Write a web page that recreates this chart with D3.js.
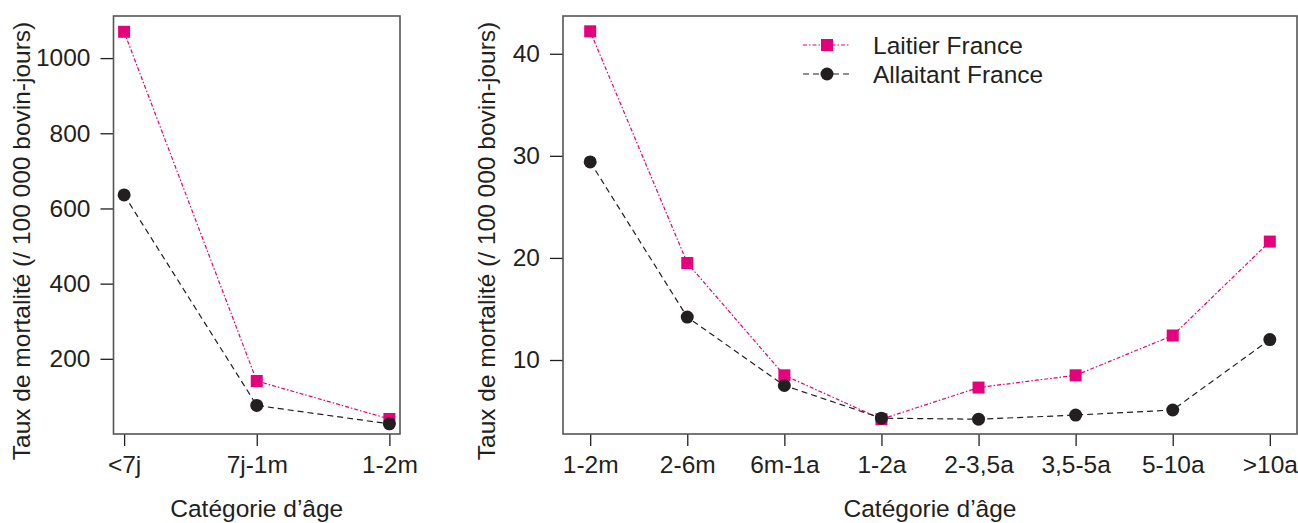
<!DOCTYPE html>
<html>
<head>
<meta charset="utf-8">
<script src="https://cdn.jsdelivr.net/npm/d3@7"></script>
<style>
  body { margin: 0; background: #fff; }
  text { font-family: "Liberation Sans", Arial, sans-serif; fill: #231f20; }
</style>
</head>
<body>
<svg id="chart" width="1298" height="523"></svg>
<script>
// data
const agesYoung = ["<7j", "7j-1m", "1-2m"];
const laitierYoung = [1070, 141, 40];
const allaitantYoung = [636, 76, 27];
const ticksYoung = [200, 400, 600, 800, 1000];

const agesOld = ["1-2m", "2-6m", "6m-1a", "1-2a", "2-3,5a", "3,5-5a", "5-10a", ">10a"];
const laitierOld = [42.2, 19.5, 8.5, 4.2, 7.3, 8.5, 12.4, 21.6];
const allaitantOld = [29.4, 14.2, 7.5, 4.3, 4.2, 4.6, 5.1, 12.0];
const ticksOld = [10, 20, 30, 40];

const seriesNames = ["Laitier France", "Allaitant France"];

const pink = "#e5007d", dark = "#231f20";
const fontSize = 24.5;
const yTitle = "Taux de mortalité (/ 100 000 bovin-jours)";
const xTitle = "Catégorie d\u2019âge";

const svg = d3.select("#chart");

function panel(opts) {
    const {left, right, top, bottom, cats, laitier, allaitant, yDomain, yTicks, titleX} = opts;

    const x = d3.scalePoint()
        .domain(cats)
        .range([left, right])
        .padding(0.04 * (cats.length - 1));

    const y = d3.scaleLinear()
        .domain(yDomain)
        .range([bottom, top]);

    // x axis: ticks only, R style
    const gx = svg.append("g")
        .attr("transform", `translate(0,${bottom})`)
        .call(d3.axisBottom(x).tickSize(12).tickPadding(10));
    gx.select(".domain").remove();
    gx.selectAll("line").attr("stroke", dark).attr("stroke-width", 1.3);
    gx.selectAll("text").attr("font-size", fontSize).attr("fill", dark);

    const gy = svg.append("g")
        .attr("transform", `translate(${left},0)`)
        .call(d3.axisLeft(y).tickValues(yTicks).tickFormat(d3.format("d")).tickSize(13).tickPadding(10));
    gy.select(".domain").remove();
    gy.selectAll("line").attr("stroke", dark).attr("stroke-width", 1.3);
    gy.selectAll("text").attr("font-size", fontSize).attr("fill", dark);

    svg.append("rect")
        .attr("x", left)
        .attr("y", top)
        .attr("width", right - left)
        .attr("height", bottom - top)
        .attr("fill", "none")
        .attr("stroke", "#555")
        .attr("stroke-width", 1.6);

    const line = d3.line()
        .x((d, i) => x(cats[i]))
        .y(d => y(d));

    svg.append("path")
        .datum(laitier)
        .attr("fill", "none")
        .attr("stroke", pink)
        .attr("stroke-width", 1.2)
        .attr("stroke-dasharray", "4,2,1.5,2")
        .attr("d", line);

    svg.append("path")
        .datum(allaitant)
        .attr("fill", "none")
        .attr("stroke", dark)
        .attr("stroke-width", 1.2)
        .attr("stroke-dasharray", "6,4")
        .attr("d", line);

    svg.append("g").selectAll("rect")
        .data(laitier)
        .enter()
        .append("rect")
        .attr("x", (d, i) => x(cats[i]) - 6)
        .attr("y", d => y(d) - 6)
        .attr("width", 12)
        .attr("height", 12)
        .attr("fill", pink);

    svg.append("g").selectAll("circle")
        .data(allaitant)
        .enter()
        .append("circle")
        .attr("cx", (d, i) => x(cats[i]))
        .attr("cy", d => y(d))
        .attr("r", 6.5)
        .attr("fill", dark);

    svg.append("text")
        .attr("x", (left + right) / 2)
        .attr("y", 517)
        .attr("text-anchor", "middle")
        .attr("font-size", fontSize)
        .text(xTitle);

    svg.append("text")
        .attr("transform", `translate(${titleX},241) rotate(-90)`)
        .attr("text-anchor", "middle")
        .attr("font-size", fontSize)
        .text(yTitle);
}

panel({
    left: 113.5, right: 400, top: 16, bottom: 434,
    cats: agesYoung, laitier: laitierYoung, allaitant: allaitantYoung,
    yDomain: [0, 1112], yTicks: ticksYoung, titleX: 30
});

panel({
    left: 563, right: 1297, top: 16, bottom: 434,
    cats: agesOld, laitier: laitierOld, allaitant: allaitantOld,
    yDomain: [2.75, 43.7], yTicks: ticksOld, titleX: 495
});

// legend
const legend = svg.append("g").attr("transform", "translate(803,45)");
seriesNames.forEach((name, i) => {
    const gy = i * 29;
    legend.append("line")
        .attr("x1", 0).attr("x2", 47)
        .attr("y1", gy).attr("y2", gy)
        .attr("stroke", i === 0 ? pink : dark)
        .attr("stroke-width", 1.2)
        .attr("stroke-dasharray", i === 0 ? "4,2,1.5,2" : "6,4");
    if (i === 0) {
        legend.append("rect")
            .attr("x", 18).attr("y", gy - 6)
            .attr("width", 12).attr("height", 12)
            .attr("fill", pink);
    } else {
        legend.append("circle")
            .attr("cx", 24).attr("cy", gy)
            .attr("r", 6.5)
            .attr("fill", dark);
    }
    legend.append("text")
        .attr("x", 70)
        .attr("y", gy + 9)
        .attr("font-size", fontSize)
        .text(name);
});
</script>
</body>
</html>
